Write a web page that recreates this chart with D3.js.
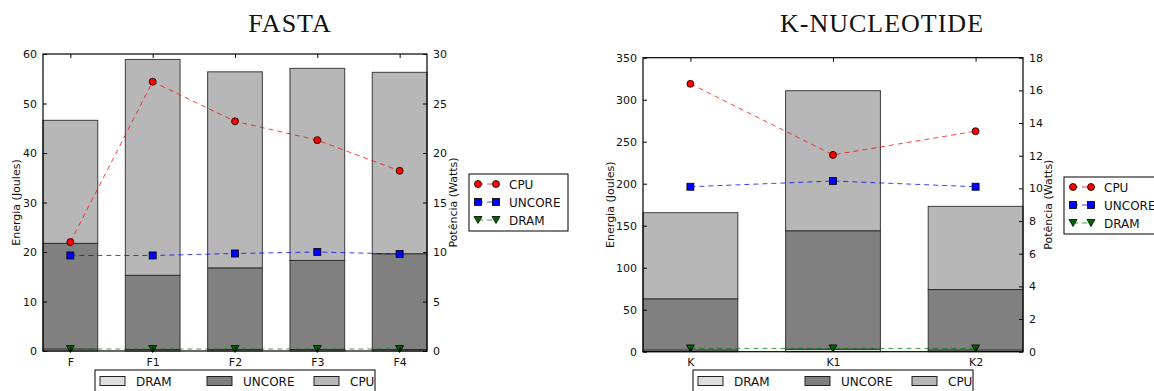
<!DOCTYPE html>
<html>
<head>
<meta charset="utf-8">
<script src="https://cdn.jsdelivr.net/npm/d3@7"></script>
<style>
  body { margin: 0; background: #fff; }
  text { font-family: "DejaVu Sans", sans-serif; fill: #111; }
</style>
</head>
<body>
<div id="chart"></div>
<script>
// ---- data ----
const fastaCats = ["F", "F1", "F2", "F3", "F4"];
const fastaDram = [0.4, 0.3, 0.3, 0.3, 0.3];
const fastaUncore = [21.35, 15.0, 16.5, 18.0, 19.35];
const fastaCpu = [24.85, 43.6, 39.6, 38.8, 36.65];
const fastaPowCpu = [11.0, 27.2, 23.2, 21.3, 18.2];
const fastaPowUncore = [9.65, 9.65, 9.85, 10.0, 9.8];
const fastaPowDram = [0.2, 0.2, 0.2, 0.2, 0.2];
const fastaEnergyTicks = [0, 10, 20, 30, 40, 50, 60];
const fastaPowerTicks = [0, 5, 10, 15, 20, 25, 30];

const knucCats = ["K", "K1", "K2"];
const knucDram = [2, 3, 2];
const knucUncore = [61, 141, 72];
const knucCpu = [102.5, 166.7, 99];
const knucPowCpu = [16.4, 12.05, 13.5];
const knucPowUncore = [10.1, 10.45, 10.1];
const knucPowDram = [0.2, 0.2, 0.2];
const knucEnergyTicks = [0, 50, 100, 150, 200, 250, 300, 350];
const knucPowerTicks = [0, 2, 4, 6, 8, 10, 12, 14, 16, 18];

const barLegend = ["DRAM", "UNCORE", "CPU"];
const lineLegend = ["CPU", "UNCORE", "DRAM"];

const svg = d3.select("#chart")
    .append("svg")
    .attr("width", 1154)
    .attr("height", 391);

const barColors = { DRAM: "#dedede", UNCORE: "#808080", CPU: "#b7b7b7" };
const lineColors = { CPU: "#ff0000", UNCORE: "#0000ff", DRAM: "#008000" };
const markerFill = { CPU: "#ff0000", UNCORE: "#0000ff", DRAM: "#006400" };

function marker(g, kind, x, y) {
    if (kind === "CPU") {
        g.append("circle").attr("cx", x).attr("cy", y).attr("r", 3.5)
            .attr("fill", markerFill[kind]).attr("stroke", "#000").attr("stroke-width", 0.8);
    } else if (kind === "UNCORE") {
        g.append("rect").attr("x", x - 3.5).attr("y", y - 3.5).attr("width", 7).attr("height", 7)
            .attr("fill", markerFill[kind]).attr("stroke", "#000").attr("stroke-width", 0.8);
    } else {
        g.append("path").attr("d", `M${x - 4},${y - 3.5}L${x + 4},${y - 3.5}L${x},${y + 3.5}Z`)
            .attr("fill", markerFill[kind]).attr("stroke", "#000").attr("stroke-width", 0.8);
    }
}

function drawPanel(p) {
    const n = p.cats.length;
    const bw = 0.665;
    const x = d3.scaleLinear().domain([-bw / 2, n - 1 + bw / 2]).range([p.left, p.right]);
    const y = d3.scaleLinear().domain([0, p.eMax]).range([p.bottom, p.top]);
    const y2 = d3.scaleLinear().domain([0, p.wMax]).range([p.bottom, p.top]);

    const g = svg.append("g");

    // stacked bars: DRAM, UNCORE, CPU
    p.cats.forEach((c, i) => {
        const parts = [["DRAM", p.dram[i]], ["UNCORE", p.uncore[i]], ["CPU", p.cpu[i]]];
        let base = 0;
        parts.forEach(([k, v]) => {
            g.append("rect")
                .attr("x", x(i - bw / 2))
                .attr("width", x(bw) - x(0))
                .attr("y", y(base + v))
                .attr("height", y(base) - y(base + v))
                .attr("fill", barColors[k])
                .attr("stroke", "#222")
                .attr("stroke-opacity", 0.85)
                .attr("stroke-width", 1);
            base += v;
        });
    });

    // power lines
    const series = [["DRAM", p.powDram], ["UNCORE", p.powUncore], ["CPU", p.powCpu]];
    series.forEach(([k, vals]) => {
        g.append("path")
            .datum(vals)
            .attr("fill", "none")
            .attr("stroke", lineColors[k])
            .attr("stroke-opacity", 0.75)
            .attr("stroke-width", 1)
            .attr("stroke-dasharray", "5,4")
            .attr("d", d3.line().x((d, i) => x(i)).y(d => y2(d)));
        vals.forEach((v, i) => marker(g, k, x(i), y2(v)));
    });

    // frame
    g.append("rect")
        .attr("x", p.left).attr("y", p.top)
        .attr("width", p.right - p.left).attr("height", p.bottom - p.top)
        .attr("fill", "none").attr("stroke", "#000").attr("stroke-width", 1.2);

    // left axis
    const la = g.append("g").attr("transform", `translate(${p.left},0)`)
        .call(d3.axisLeft(y).tickValues(p.eTicks).tickSize(-4).tickPadding(6));
    // right axis
    const ra = g.append("g").attr("transform", `translate(${p.right},0)`)
        .call(d3.axisRight(y2).tickValues(p.wTicks).tickSize(-4).tickPadding(6));
    // bottom axis
    const ba = g.append("g").attr("transform", `translate(0,${p.bottom})`)
        .call(d3.axisBottom(x).tickValues(d3.range(n)).tickFormat(i => p.cats[i]).tickSize(-4).tickPadding(7));
    // top ticks
    const ta = g.append("g").attr("transform", `translate(0,${p.top})`)
        .call(d3.axisTop(x).tickValues(d3.range(n)).tickFormat("").tickSize(-4));
    [la, ra, ba, ta].forEach(a => {
        a.select(".domain").remove();
        a.selectAll("text").style("font-size", "11px").attr("fill", "#111");
        a.selectAll("line").attr("stroke", "#000");
    });

    // axis labels
    g.append("text")
        .attr("transform", `translate(${p.yLabelLeft},${(p.top + p.bottom) / 2}) rotate(-90)`)
        .attr("text-anchor", "middle").style("font-size", "11px")
        .text("Energia (Joules)");
    g.append("text")
        .attr("transform", `translate(${p.yLabelRight},${(p.top + p.bottom) / 2}) rotate(-90)`)
        .attr("text-anchor", "middle").style("font-size", "11px")
        .text("Potência (Watts)");

    // title
    g.append("text")
        .attr("x", p.titleX).attr("y", 32)
        .attr("text-anchor", "middle")
        .style("font-family", "'Liberation Serif', 'DejaVu Serif', serif")
        .style("font-size", "26px")
        .style("letter-spacing", "1px")
        .text(p.title);

    // line legend
    const lg = g.append("g").attr("transform", `translate(${p.legX},${p.legY})`);
    lg.append("rect").attr("width", 99).attr("height", 57)
        .attr("fill", "#fff").attr("stroke", "#000").attr("stroke-width", 1);
    lineLegend.forEach((k, i) => {
        const yy = 10 + i * 18;
        lg.append("line").attr("x1", 9).attr("x2", 27).attr("y1", yy).attr("y2", yy)
            .attr("stroke", lineColors[k]).attr("stroke-opacity", 0.75).attr("stroke-dasharray", "5,4");
        marker(lg, k, 9, yy);
        marker(lg, k, 27, yy);
        lg.append("text").attr("x", 40).attr("y", yy + 4.5).style("font-size", "12px").text(k);
    });

    // bar legend (bottom)
    const cx = (p.left + p.right) / 2;
    const bg = g.append("g").attr("transform", `translate(${cx - 140},370)`);
    bg.append("rect").attr("width", 280).attr("height", 30)
        .attr("fill", "#fff").attr("stroke", "#000").attr("stroke-width", 1);
    barLegend.forEach((k, i) => {
        const px = 5 + i * 107;
        bg.append("rect").attr("x", px).attr("y", 6.5).attr("width", 25).attr("height", 9)
            .attr("fill", barColors[k]).attr("stroke", "#222").attr("stroke-width", 1);
        bg.append("text").attr("x", px + 36).attr("y", 16).style("font-size", "12px").text(k);
    });
}

drawPanel({
    title: "FASTA", titleX: 290,
    cats: fastaCats, dram: fastaDram, uncore: fastaUncore, cpu: fastaCpu,
    powCpu: fastaPowCpu, powUncore: fastaPowUncore, powDram: fastaPowDram,
    eMax: 60, wMax: 30, eTicks: fastaEnergyTicks, wTicks: fastaPowerTicks,
    left: 43, right: 427, top: 54, bottom: 351,
    yLabelLeft: 20, yLabelRight: 457,
    legX: 469, legY: 174
});

drawPanel({
    title: "K-NUCLEOTIDE", titleX: 882,
    cats: knucCats, dram: knucDram, uncore: knucUncore, cpu: knucCpu,
    powCpu: knucPowCpu, powUncore: knucPowUncore, powDram: knucPowDram,
    eMax: 350, wMax: 18, eTicks: knucEnergyTicks, wTicks: knucPowerTicks,
    left: 643, right: 1023, top: 57.7, bottom: 351.7,
    yLabelLeft: 614, yLabelRight: 1052,
    legX: 1064, legY: 177
});
</script>
</body>
</html>
